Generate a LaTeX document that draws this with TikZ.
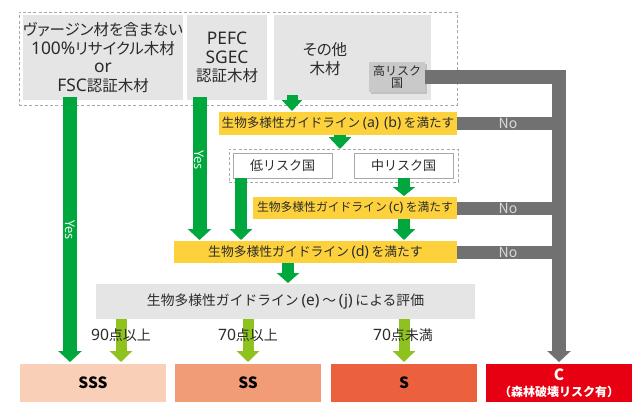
\documentclass[tikz,border=0pt]{standalone}
\usepackage{fontspec}
\setmainfont{Noto Sans CJK JP}
\newfontfamily\lt{Noto Sans}[Scale=1.12]
\newfontfamily\pj{Noto Sans CJK JP}[RawFeature=+palt]
\usetikzlibrary{arrows.meta,shadows}
\definecolor{boxgray}{HTML}{E5E5E5}
\definecolor{dashgray}{HTML}{A8A8A8}
\definecolor{yel}{HTML}{FDD13C}
\definecolor{grn}{HTML}{00A73C}
\definecolor{lgrn}{HTML}{8DC21F}
\definecolor{darkbar}{HTML}{717171}
\definecolor{riskgray}{HTML}{C9C9C9}
\definecolor{rankA}{HTML}{F9CFB8}
\definecolor{rankB}{HTML}{F29C77}
\definecolor{rankC}{HTML}{EC613D}
\definecolor{rankD}{HTML}{E60012}
\definecolor{txt}{HTML}{2B2B2B}
\newcommand{\kp}[1]{\hspace{0.2em}{\lt(#1)}\hspace{0.2em}}
\begin{document}
\begin{tikzpicture}[x=1pt,y=-1pt,
  rectbox/.style={anchor=north west, inner sep=0pt, outer sep=0pt, align=center, text=txt},
  grayfill/.style={rectbox, fill=boxgray},
  dashframe/.style={rectbox, draw=dashgray, line width=0.9pt, dash pattern=on 3pt off 2.2pt},
  ybox/.style={rectbox, fill=yel},
  riskbox/.style={rectbox, fill=white, draw=dashgray, line width=0.9pt, font=\fontsize{13pt}{14pt}\selectfont},
  rank/.style={rectbox, minimum width=146, minimum height=38},
  topfont/.style={font=\pj\fontsize{15.5pt}{18.5pt}\selectfont},
  gbig/.style={draw=grn, line width=14pt, -{Triangle[width=23pt,length=11pt]}},
  gsmall/.style={draw=grn, line width=12pt, -{Triangle[width=22pt,length=#1]}},
  lgarrow/.style={draw=lgrn, line width=11pt, -{Triangle[width=22pt,length=11pt]}},
  gbar/.style={draw=darkbar, line width=#1},
  nolab/.style={text=white!85!black, font=\fontsize{14pt}{14pt}\selectfont, inner sep=0pt},
  yeslab/.style={text=white!92!grn, rotate=-90, font=\fontsize{13pt}{13pt}\selectfont, inner sep=0pt},
  ptlab/.style={text=txt, font=\fontsize{14pt}{14pt}\selectfont, inner sep=0pt}
]
\useasboundingbox (0,0) rectangle (634,402);

% top group
\node[dashframe, minimum width=438, minimum height=93] (outer) at (19,12) {};
\node[grayfill, topfont, minimum width=157, minimum height=85] (b1) at (23,15)
  {ヴァージン材を含まない\\{\lt 100\%}リサイクル木材\\{\lt or}\\{\lt FSC}認証木材};
\node[grayfill, topfont, minimum width=80, minimum height=85] (b2) at (187,15)
  {{\lt PEFC}\\{\lt SGEC}\\認証木材};
\node[grayfill, minimum width=157, minimum height=85] (b3) at (274,15) {};
\node[topfont, text=txt, align=center, inner sep=0pt] (b3t) at (325,59) {その他\\木材};

% gray "high risk" path
\node[rectbox, fill=riskgray, minimum width=56, minimum height=30,
  font=\fontsize{12pt}{12pt}\selectfont,
  drop shadow={shadow xshift=2pt, shadow yshift=-2pt, opacity=0.35}] (hr) at (369,62) {高リスク\\国};

% yellow conditions
\node[ybox, minimum width=238, minimum height=23, font=\fontsize{12.6pt}{13pt}\selectfont] (y1) at (219,112)
  {生物多様性ガイドライン\kp{a}\kp{b}を満たす};
\node[dashframe, minimum width=229, minimum height=33] (d2) at (229,149) {};
\node[riskbox, minimum width=99, minimum height=25] (low) at (233,153) {低リスク国};
\node[riskbox, minimum width=99, minimum height=25] (mid) at (354,153) {中リスク国};
\node[ybox, minimum width=204, minimum height=22, font=\fontsize{11.8pt}{12pt}\selectfont] (y2) at (253,197)
  {生物多様性ガイドライン\kp{c}を満たす};
\node[ybox, minimum width=283, minimum height=22, font=\fontsize{12.8pt}{13pt}\selectfont] (y3) at (174,241)
  {生物多様性ガイドライン\kp{d}を満たす};
\node[grayfill, minimum width=379, minimum height=35, font=\fontsize{13.8pt}{14pt}\selectfont] (ev) at (96,284)
  {生物多様性ガイドライン\kp{e}～\kp{j}による評価};

% ranks
\node[rank, fill=rankA, text=black, font=\bfseries\fontsize{15.5pt}{15pt}\selectfont] (sss) at (20,364) {SSS};
\node[rank, fill=rankB, text=black, font=\bfseries\fontsize{15.5pt}{15pt}\selectfont] (ss) at (175,364) {SS};
\node[rank, fill=rankC, text=black, font=\bfseries\fontsize{15.5pt}{15pt}\selectfont] (s) at (331,364) {S};
\node[rank, fill=rankD, text=white, font=\bfseries\fontsize{12pt}{16pt}\selectfont] (c) at (486,364)
  {{\fontsize{15.5pt}{16pt}\selectfont C}\\（森林破壊リスク有）};

% gray connectors
\draw[gbar=14pt, -{Triangle[width=23pt,length=11pt]}, shorten >=2pt] (hr.east) -| (c.north);
\draw[gbar=13pt] (y1.east) -- (y1.east -| c.north) node[nolab, midway] {No};
\draw[gbar=13pt] (y2.east) -- (y2.east -| c.north) node[nolab, midway] {No};
\draw[gbar=13pt] (y3.east) -- (y3.east -| c.north) node[nolab, midway] {No};

% green connectors
\coordinate (g1s) at (70,97);
\draw[gbig, shorten >=2pt] (g1s) -- (g1s |- sss.north);
\node[yeslab] at (70,230) {Yes};
\coordinate (g2s) at (199.5,97);
\draw[gbig, shorten >=1pt] (g2s) -- (g2s |- y3.north);
\node[yeslab] at (199.5,160) {Yes};
\coordinate (g3s) at (292,95);
\draw[draw=grn, line width=11pt, -{Triangle[width=20pt,length=11pt]}, shorten >=1pt] (g3s) -- (g3s |- y1.north);
\coordinate (g4s) at (340,135);
\draw[gsmall=12pt] (g4s) -- (g4s |- d2.north);
\coordinate (g5s) at (404,178);
\draw[gsmall=9pt, shorten >=1pt] (g5s) -- (g5s |- y2.north);
\coordinate (g6s) at (241,178);
\draw[gsmall=11pt, shorten >=1pt] (g6s) -- (g6s |- y3.north);
\coordinate (g7s) at (404,219);
\draw[gsmall=11pt, shorten >=1pt] (g7s) -- (g7s |- y3.north);
\coordinate (g8s) at (288,263);
\draw[gsmall=10pt, shorten >=1pt] (g8s) -- (g8s |- ev.north);

% light green connectors
\coordinate (l1s) at (121,319);
\draw[lgarrow, shorten >=2pt] (l1s) -- (l1s |- sss.north);
\coordinate (l2s) at (248,319);
\draw[lgarrow, shorten >=2pt] (l2s) -- (l2s |- ss.north);
\coordinate (l3s) at (404,319);
\draw[lgarrow, shorten >=2pt] (l3s) -- (l3s |- s.north);
\node[ptlab] at (121,335) {{\lt 90}点以上};
\node[ptlab] at (248,335) {{\lt 70}点以上};
\node[ptlab] at (403,335) {{\lt 70}点未満};
\end{tikzpicture}
\end{document}
